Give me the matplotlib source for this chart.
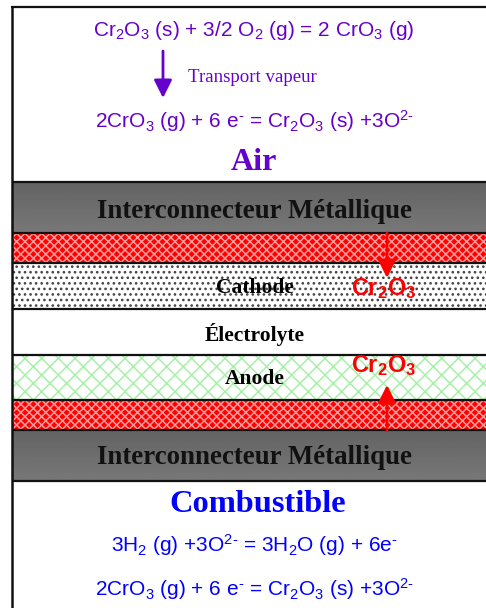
"""Layer stack of the fuel cell with chromium oxide vapour transport."""
import matplotlib
matplotlib.use('Agg')
import matplotlib.pyplot as plt
import numpy as np
from matplotlib.patches import FancyArrowPatch, Rectangle

OUT_PATH = 'out.png'

PURPLE = '#6600CC'
BLUE = '#0000FF'
RED = '#FF0000'
SANS = 'Liberation Sans'
SERIF = 'Liberation Serif'

# layers, top to bottom, in image pixels
LAYER_NAMES = ['inter_top', 'red_top', 'cathode', 'electrolyte', 'anode', 'red_bottom', 'inter_bottom']
LAYER_TOPS = [182, 233, 263, 309, 355, 400, 430]
LAYER_BOTTOMS = [233, 263, 309, 355, 400, 430, 481]

plt.rcParams['font.family'] = SANS
plt.rcParams['mathtext.default'] = 'regular'
plt.rcParams['hatch.linewidth'] = 1.1


def arrow(ax, p1, p2, color, lw=2.0, scale=27):
    a = FancyArrowPatch(p1, p2, arrowstyle='-|>', mutation_scale=scale, linewidth=lw,
                        color=color, shrinkA=0, shrinkB=0, zorder=5)
    ax.add_patch(a)


def gray_band(ax, top, bottom):
    grad = np.linspace(0.39, 0.47, 64).reshape(-1, 1)
    ax.imshow(grad, extent=(12, 486, bottom, top), cmap='gray', vmin=0, vmax=1,
              aspect='auto', zorder=1)


def main():
    fig = plt.figure(figsize=(4.86, 6.08), dpi=100)
    ax = fig.add_axes([0, 0, 1, 1])

    styles = {
        'red_top': dict(facecolor=RED, edgecolor='#FF9C9C', hatch='xxxx'),
        'red_bottom': dict(facecolor=RED, edgecolor='#FF9C9C', hatch='xxxx'),
        'cathode': dict(facecolor='white', edgecolor='#444444', hatch='...'),
        'anode': dict(facecolor='white', edgecolor='#A8F0A8', hatch='xx'),
    }
    for name, top, bottom in zip(LAYER_NAMES, LAYER_TOPS, LAYER_BOTTOMS):
        if name.startswith('inter'):
            gray_band(ax, top, bottom)
        elif name in styles:
            ax.add_patch(Rectangle((12, top), 474, bottom - top, linewidth=0, zorder=1, **styles[name]))

    # separators between the layers
    for y in sorted(set(LAYER_TOPS + LAYER_BOTTOMS)):
        ax.plot([12, 486], [y, y], color='#111111', lw=1.6, zorder=3, solid_capstyle='butt')
    ax.plot([12, 12], [6, 608], color='#111111', lw=1.8, zorder=3, solid_capstyle='butt')
    ax.plot([11, 486], [6.5, 6.5], color='#111111', lw=1.6, zorder=3, solid_capstyle='butt')

    # top side
    ax.text(254, 30, r'Cr$_2$O$_3$ (s) + 3/2 O$_2$ (g) = 2 CrO$_3$ (g)', ha='center', va='center',
            fontsize=15, color=PURPLE)
    arrow(ax, (163, 51), (163, 98), PURPLE, lw=2.0)
    ax.text(188, 78, 'Transport vapeur', ha='left', va='center', fontsize=13.6, color=PURPLE, family=SERIF)
    ax.text(254, 121, '2CrO$_3$ (g) + 6 e$^{\u2010}$ = Cr$_2$O$_3$ (s) +3O$^{2\u2010}$', ha='center', va='center',
            fontsize=15, color=PURPLE)
    ax.text(254, 162, 'Air', ha='center', va='center', fontsize=23, fontweight='bold',
            color=PURPLE, family=SERIF)

    # layer labels
    for text, y in [('Interconnecteur Métallique', 211), ('Interconnecteur Métallique', 458)]:
        ax.text(254.5, y, text, ha='center', va='center', fontsize=19.4, fontweight='bold',
                color='#111111', family=SERIF, zorder=4)
    for text, y in [('Cathode', 288), ('Électrolyte', 334), ('Anode', 379)]:
        ax.text(254.5, y, text, ha='center', va='center', fontsize=15.5, fontweight='bold',
                color='black', family=SERIF, zorder=4)

    # oxide migration
    arrow(ax, (387, 233), (387, 278), RED)
    arrow(ax, (387, 430), (387, 385), RED)
    ax.text(383.5, 289, r'Cr$_2$O$_3$', ha='center', va='center', fontsize=16.9, fontweight='bold',
            color=RED, zorder=6)
    ax.text(383.5, 366, r'Cr$_2$O$_3$', ha='center', va='center', fontsize=16.9, fontweight='bold',
            color=RED, zorder=6)

    # bottom side
    ax.text(257.5, 505, 'Combustible', ha='center', va='center', fontsize=23.3, fontweight='bold',
            color=BLUE, family=SERIF)
    ax.text(254, 545, '3H$_2$ (g) +3O$^{2\u2010}$ = 3H$_2$O (g) + 6e$^{\u2010}$', ha='center', va='center',
            fontsize=15, color=BLUE)
    ax.text(254, 589, '2CrO$_3$ (g) + 6 e$^{\u2010}$ = Cr$_2$O$_3$ (s) +3O$^{2\u2010}$', ha='center', va='center',
            fontsize=15, color=BLUE)

    ax.set_xlim(0, 486)
    ax.set_ylim(608, 0)
    ax.axis('off')
    fig.savefig(OUT_PATH, dpi=100)


if __name__ == '__main__':
    main()
